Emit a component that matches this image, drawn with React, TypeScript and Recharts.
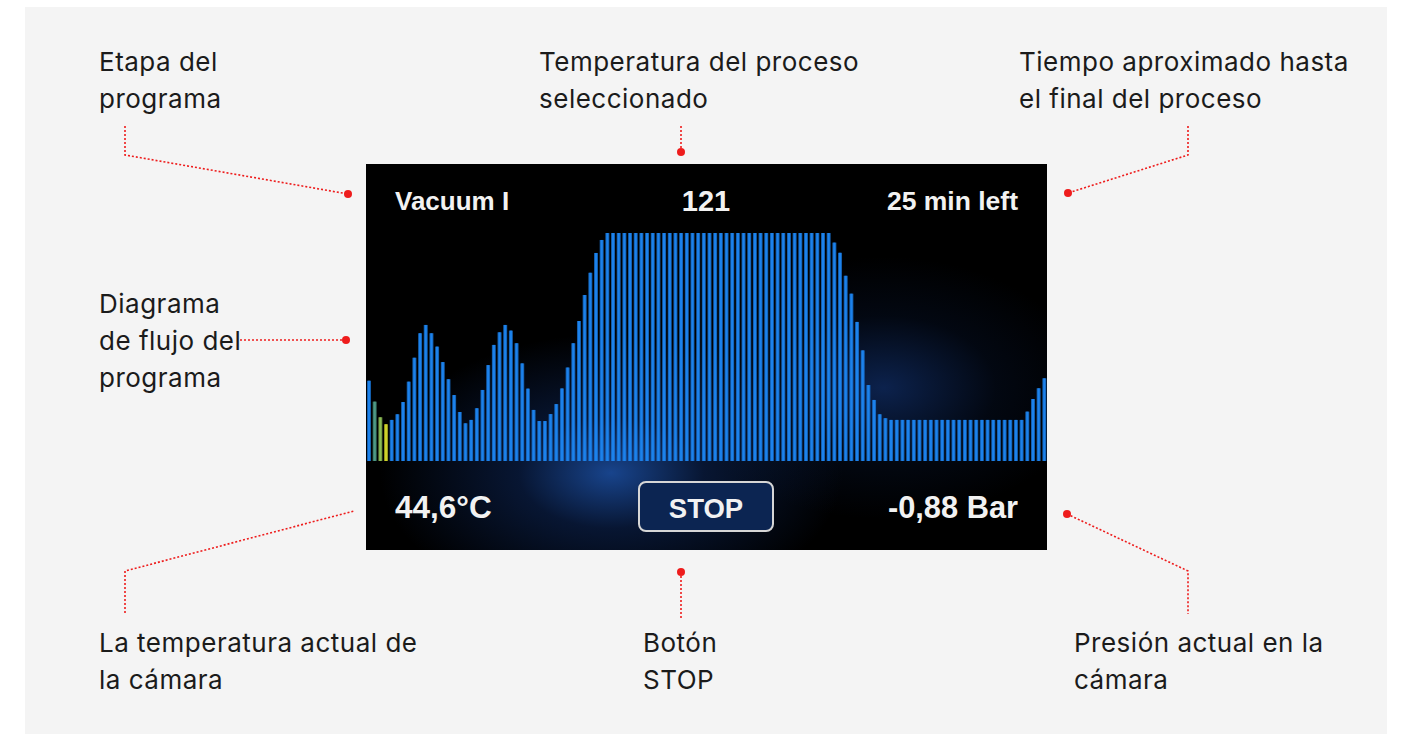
import { BarChart, Bar, XAxis, YAxis, Cell } from 'recharts';

// temperature profile of the program, one value per step (°C)
const temps = [
  42.6, 31.5, 23.2, 19.5, 21.8, 24.8, 31.3, 42.1, 54.8, 67.8,
  72.2, 67.8, 60.7, 52.5, 43.4, 35.0, 26.0, 20.0, 21.8, 28.0,
  37.7, 50.9, 61.6, 68.3, 72.2, 69.2, 62.5, 51.8, 38.4, 27.1,
  21.2, 21.2, 24.9, 30.2, 38.5, 49.6, 62.5, 74.3, 88.1, 99.9,
  110.4, 117.3, 121, 121, 121, 121, 121, 121, 121, 121,
  121, 121, 121, 121, 121, 121, 121, 121, 121, 121,
  121, 121, 121, 121, 121, 121, 121, 121, 121, 121,
  121, 121, 121, 121, 121, 121, 121, 121, 121, 121,
  121, 121, 115.9, 110.5, 98.3, 88.8, 73.8, 58.7, 40.3, 32.4,
  24.8, 22.7, 21.8, 21.8, 21.8, 21.8, 21.8, 21.8, 21.8, 21.8,
  21.8, 21.8, 21.8, 21.8, 21.8, 21.8, 21.8, 21.8, 21.8, 21.8,
  21.8, 21.8, 21.8, 21.8, 21.8, 21.8, 26.2, 32.9, 38.6, 43.9,
];

// steps already completed at the start are drawn in progress colours
const doneColors = ['#1c82ec', '#4f9a86', '#8dbd55', '#cfd22a'];
const barColor = '#1c82ec';

const stage = 'Vacuum I';
const setTemp = '121';
const timeLeft = '25 min left';
const chamberTemp = '44,6°C';
const chamberPressure = '-0,88 Bar';

const data = temps.map((t, i) => ({ step: i + 1, temp: t }));

const BarShape = (props: any) => {
  const { x, y, width, height, fill } = props;
  if (!height || height <= 0) return null;
  return (
    <g>
      <rect x={x} y={y} width={width} height={height} fill={fill} opacity={0.7} />
      <rect x={x + 0.9} y={y} width={width - 1.8} height={height} fill={fill} />
    </g>
  );
};

const noteStyle: React.CSSProperties = {
  position: 'absolute',
  fontFamily: 'Inter, sans-serif',
  fontSize: 26,
  letterSpacing: 0.5,
  lineHeight: '37px',
  color: '#1b1b1b',
  whiteSpace: 'pre',
};

const RED = '#ee1c1c';

function Leaders() {
  const dash = { stroke: RED, strokeWidth: 1.6, strokeDasharray: '2 2', fill: 'none' };
  return (
    <svg width={1401} height={734} style={{ position: 'absolute', left: 0, top: 0 }}>
      <polyline points="125,126 125,155 348,194" {...dash} />
      <circle cx={348} cy={194} r={4} fill={RED} />
      <polyline points="681,126 681,152" {...dash} />
      <circle cx={681} cy={152} r={4} fill={RED} />
      <polyline points="1188,126 1188,155 1068,193" {...dash} />
      <circle cx={1068} cy={193} r={4} fill={RED} />
      <polyline points="240,340 346,340" {...dash} />
      <circle cx={346} cy={340} r={4} fill={RED} />
      <polyline points="125,613 125,571 354,511" {...dash} />
      <polyline points="681,572 681,620" {...dash} />
      <circle cx={681} cy={572} r={4} fill={RED} />
      <polyline points="1067,514 1188,571 1188,614" {...dash} />
      <circle cx={1067} cy={514} r={4} fill={RED} />
    </svg>
  );
}

function Screen() {
  const txt = { fontFamily: '"Liberation Sans", Arial, sans-serif', fontWeight: 700, fill: '#f2f2f2' };
  return (
    <div
      style={{
        position: 'absolute',
        left: 366,
        top: 164,
        width: 681,
        height: 386,
        background:
          'radial-gradient(ellipse 34% 36% at 36% 80%, rgba(30,85,175,0.8) 0%, rgba(18,52,120,0.42) 40%, rgba(0,0,0,0) 100%),' +
          'radial-gradient(ellipse 30% 34% at 76% 58%, rgba(22,62,140,0.55) 0%, rgba(10,30,70,0.25) 55%, rgba(0,0,0,0) 100%), #000',
        overflow: 'hidden',
      }}
    >
      <BarChart
        width={681}
        height={386}
        data={data}
        margin={{ top: 69, right: 0, bottom: 89, left: 0 }}
        barCategoryGap={0}
      >
        <XAxis dataKey="step" hide />
        <YAxis domain={[0, 121]} hide />
        <Bar dataKey="temp" barSize={4} shape={<BarShape />} isAnimationActive={false}>
          {data.map((d, i) => (
            <Cell key={d.step} fill={doneColors[i] ?? barColor} />
          ))}
        </Bar>
      </BarChart>
      <svg width={681} height={386} style={{ position: 'absolute', left: 0, top: 0 }}>
        <text x={29} y={46} fontSize={26} {...txt}>{stage}</text>
        <text x={340} y={47} fontSize={29} textAnchor="middle" {...txt}>{setTemp}</text>
        <text x={652} y={46} fontSize={26.5} textAnchor="end" {...txt}>{timeLeft}</text>
        <text x={29} y={354} fontSize={31.5} {...txt}>{chamberTemp}</text>
        <rect x={273} y={318} width={134} height={49} rx={7} fill="#0c2552" stroke="#d6d6d6" strokeWidth={2} />
        <text x={340} y={354} fontSize={27.5} textAnchor="middle" {...txt}>STOP</text>
        <text x={652} y={354} fontSize={30.8} textAnchor="end" {...txt}>{chamberPressure}</text>
      </svg>
    </div>
  );
}

export default function App() {
  return (
    <div style={{ position: 'absolute', left: 0, top: 0, width: 1401, height: 734, background: '#fff', overflow: 'hidden' }}>
      <div style={{ position: 'absolute', left: 25, top: 7, width: 1362, height: 740, background: '#f4f4f4' }} />
      <div style={{ ...noteStyle, left: 99, top: 43 }}>{'Etapa del\nprograma'}</div>
      <div style={{ ...noteStyle, left: 539, top: 43 }}>{'Temperatura del proceso\nseleccionado'}</div>
      <div style={{ ...noteStyle, left: 1019, top: 43 }}>{'Tiempo aproximado hasta\nel final del proceso'}</div>
      <div style={{ ...noteStyle, left: 99, top: 285 }}>{'Diagrama\nde flujo del\nprograma'}</div>
      <div style={{ ...noteStyle, left: 99, top: 624 }}>{'La temperatura actual de\nla cámara'}</div>
      <div style={{ ...noteStyle, left: 643, top: 624 }}>{'Botón\nSTOP'}</div>
      <div style={{ ...noteStyle, left: 1074, top: 624 }}>{'Presión actual en la\ncámara'}</div>
      <Screen />
      <Leaders />
    </div>
  );
}
